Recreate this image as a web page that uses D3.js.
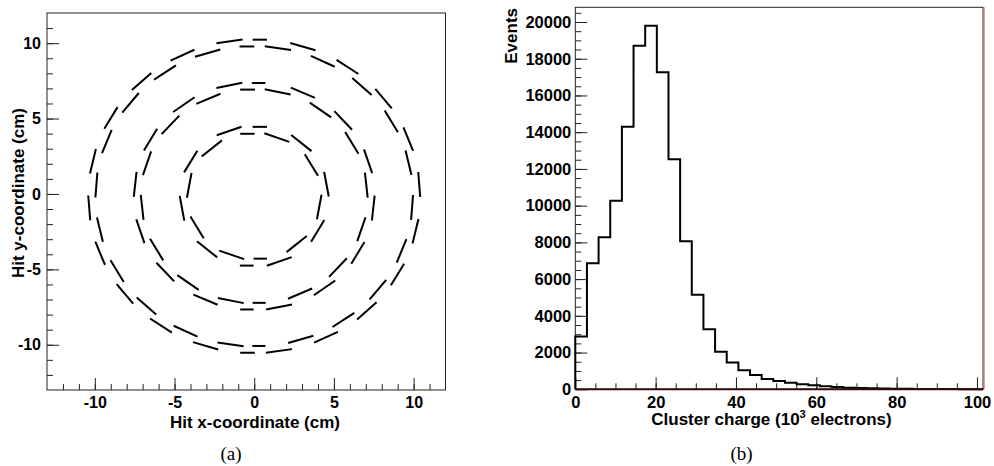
<!DOCTYPE html>
<html><head><meta charset="utf-8">
<script src="https://cdn.jsdelivr.net/npm/d3@7"></script>
<style>
body{margin:0;background:#fff}
svg{display:block}
</style>
</head><body>
<svg id="c" width="994" height="466"></svg>
<script>
// ---------------- Data: panel (a) hit map ----------------
const detectorCenter = [0.0, -0.15];           // cm
const ladderLength = 1.66;                      // cm (full ladder)
// full ladders: [phi (deg), radius (cm)]
const layer1Ladders = [
  [70,4.14],[50,4.60],[30,4.14],[10,4.60],[-10,4.14],[-30,4.60],[-50,4.14],[-70,4.60],
  [250,4.14],[230,4.60],[210,4.14],[190,4.60],[170,4.14],[150,4.60],[130,4.14],[110,4.60]
];
const layer2Ladders = [
  [78,7.07],[66,7.51],[54,7.07],[42,7.51],[30,7.07],[18,7.51],[6,7.07],[-6,7.51],
  [-18,7.07],[-30,7.51],[-42,7.07],[-54,7.51],[-66,7.07],[-78,7.51],
  [258,7.07],[246,7.51],[234,7.07],[222,7.51],[210,7.07],[198,7.51],[186,7.07],[174,7.51],
  [162,7.07],[150,7.51],[138,7.07],[126,7.51],[114,7.07],[102,7.51]
];
const layer3Ladders = [
  [81.4,9.93],[72.9,10.38],[64.3,9.93],[55.7,10.38],[47.1,9.93],[38.6,10.38],[30,9.93],[21.4,10.38],
  [12.9,9.93],[4.3,10.38],[-4.3,9.93],[-12.9,10.38],[-21.4,9.93],[-30,10.38],[-38.6,9.93],[-47.1,10.38],
  [-55.7,9.93],[-64.3,10.38],[-72.9,9.93],[-81.4,10.38],
  [261.4,9.93],[252.9,10.38],[244.3,9.93],[235.7,10.38],[227.1,9.93],[218.6,10.38],[210,9.93],[201.4,10.38],
  [192.9,9.93],[184.3,10.38],[175.7,9.93],[167.1,10.38],[158.6,9.93],[150,10.38],[141.4,9.93],[132.9,10.38],
  [124.3,9.93],[115.7,10.38],[107.1,9.93],[98.6,10.38]
];
// half ladders at top/bottom: [side (+1 top, -1 bottom), radius, x0, x1]
const halfLadders = [
  [1,4.60,-0.10,0.80],[1,4.14,-0.88,0.02],[-1,4.14,-0.04,0.80],[-1,4.60,-0.90,-0.04],
  [1,7.51,-0.15,0.70],[1,7.07,-0.88,0.05],[-1,7.07,-0.10,0.72],[-1,7.51,-0.88,-0.04],
  [1,10.38,-0.10,0.80],[1,9.93,-0.92,0.00],[-1,9.93,-0.12,0.70],[-1,10.38,-0.88,0.04]
];
const xMajorA = [-10,-5,0,5,10];
const yMajorA = [-10,-5,0,5,10];

// ---------------- Data: panel (b) histogram ----------------
const binLow = 0, binWidth = 2.9;
const counts = [2870,6860,8280,10260,14300,18710,19800,17260,12520,8060,
                5150,3270,2040,1460,1040,780,555,455,355,275,
                218,160,122,90,70,54,40,32,25,20,15,12,10,8,6];
const xMajorB = [0,20,40,60,80,100];
const yMajorB = [0,2000,4000,6000,8000,10000,12000,14000,16000,18000,20000];

// ---------------- Drawing ----------------
const svg = d3.select("#c");
const FONT = "'Liberation Sans', Arial, Helvetica, sans-serif";

function styleAxis(g, size){
  g.select(".domain").remove();
  g.selectAll("line").attr("stroke","#222").attr("stroke-width",1);
  g.selectAll("text").attr("font-family",FONT).attr("font-weight","bold")
    .attr("font-size",size).attr("fill","#000");
}

// ----- Panel (a)
const xA = d3.scaleLinear().domain([-13,12]).range([47,445.5]);
const yA = d3.scaleLinear().domain([-13,12]).range([390,13]);
const gA = svg.append("g");

gA.append("g").attr("transform","translate(0,390)")
  .call(d3.axisBottom(xA).tickValues(d3.range(-12,12)).tickSize(-6).tickFormat(""))
  .call(g=>styleAxis(g,16));
gA.append("g").attr("transform","translate(0,390)")
  .call(d3.axisBottom(xA).tickValues(xMajorA).tickSize(-12).tickPadding(7).tickFormat(d=>String(d)))
  .call(g=>styleAxis(g,16));
gA.append("g").attr("transform","translate(47,0)")
  .call(d3.axisLeft(yA).tickValues(d3.range(-12,12)).tickSize(-6).tickFormat(""))
  .call(g=>styleAxis(g,16));
gA.append("g").attr("transform","translate(47,0)")
  .call(d3.axisLeft(yA).tickValues(yMajorA).tickSize(-12).tickPadding(6).tickFormat(d=>String(d)))
  .call(g=>styleAxis(g,16));

gA.append("rect").attr("x",xA(-13)).attr("y",yA(12))
  .attr("width",xA(12)-xA(-13)).attr("height",yA(-13)-yA(12))
  .attr("fill","none").attr("stroke","#222").attr("stroke-width",1);

const [cx, cy] = detectorCenter;
function fullSeg(d){
  const a = d[0]*Math.PI/180, r = d[1], h = ladderLength/2;
  const mx = cx + r*Math.cos(a), my = cy + r*Math.sin(a);
  const tx = -Math.sin(a), ty = Math.cos(a);
  return [mx-h*tx, my-h*ty, mx+h*tx, my+h*ty];
}
const segs = [...layer1Ladders, ...layer2Ladders, ...layer3Ladders].map(fullSeg)
  .concat(halfLadders.map(d=>[d[2], cy+d[0]*d[1], d[3], cy+d[0]*d[1]]));
gA.append("g").selectAll("line").data(segs).join("line")
  .attr("x1",d=>xA(d[0])).attr("y1",d=>yA(d[1]))
  .attr("x2",d=>xA(d[2])).attr("y2",d=>yA(d[3]))
  .attr("stroke","#000").attr("stroke-width",2);

gA.append("text").attr("x",255).attr("y",422.5).attr("dy","0.35em")
  .attr("text-anchor","middle").attr("font-family",FONT).attr("font-weight","bold")
  .attr("font-size",17).text("Hit x-coordinate (cm)");
gA.append("text").attr("transform","translate(18.5,193) rotate(-90)").attr("dy","0.35em")
  .attr("text-anchor","middle").attr("font-family",FONT).attr("font-weight","bold")
  .attr("font-size",17).text("Hit y-coordinate (cm)");
gA.append("text").attr("x",231).attr("y",453).attr("dy","0.35em")
  .attr("text-anchor","middle").attr("font-family","'Liberation Serif','Times New Roman',serif")
  .attr("font-size",19).text("(a)");

// ----- Panel (b)
const xHi = binLow + binWidth*counts.length;
const xB = d3.scaleLinear().domain([0,xHi]).range([575.3,983]);
const yB = d3.scaleLinear().domain([0,20800]).range([389.3,7.3]);
const gB = svg.append("g");

gB.append("g").attr("transform","translate(0,389.3)")
  .call(d3.axisBottom(xB).tickValues(d3.range(5,101,5)).tickSize(-6).tickFormat(""))
  .call(g=>styleAxis(g,16.5));
gB.append("g").attr("transform","translate(0,389.3)")
  .call(d3.axisBottom(xB).tickValues(xMajorB).tickSize(-12).tickPadding(7).tickFormat(d=>String(d)))
  .call(g=>styleAxis(g,16.5));
gB.append("g").attr("transform","translate(575.3,0)")
  .call(d3.axisLeft(yB).tickValues(d3.range(500,20800,500)).tickSize(-6).tickFormat(""))
  .call(g=>styleAxis(g,16.5));
gB.append("g").attr("transform","translate(575.3,0)")
  .call(d3.axisLeft(yB).tickValues(yMajorB).tickSize(-12).tickPadding(4).tickFormat(d=>String(d)))
  .call(g=>styleAxis(g,16.5));

gB.append("rect").attr("x",xB(0)).attr("y",yB(20800))
  .attr("width",xB(xHi)-xB(0)).attr("height",yB(0)-yB(20800))
  .attr("fill","none").attr("stroke","#222").attr("stroke-width",1);

const pts = [[binLow,0]];
counts.forEach((c,i)=>pts.push([binLow+i*binWidth, c]));
pts.push([xHi, counts[counts.length-1]]);
pts.push([xHi, 0]);
gB.append("path").datum(pts)
  .attr("d", d3.line().x(d=>xB(d[0])).y(d=>yB(d[1])).curve(d3.curveStepAfter))
  .attr("fill","none").attr("stroke","#000").attr("stroke-width",2);

// baseline and right edge tint
gB.append("line").attr("x1",xB(0)).attr("x2",xB(xHi)).attr("y1",yB(0)).attr("y2",yB(0))
  .attr("stroke","#3a0808").attr("stroke-width",2);
gB.append("line").attr("x1",xB(xHi)+1.2).attr("x2",xB(xHi)+1.2).attr("y1",yB(20800)).attr("y2",yB(0))
  .attr("stroke","#e07070").attr("stroke-width",1);

const xl = gB.append("text").attr("x",771.5).attr("y",419).attr("dy","0.35em")
  .attr("text-anchor","middle").attr("font-family",FONT).attr("font-weight","bold")
  .attr("font-size",17);
xl.append("tspan").text("Cluster charge (10");
xl.append("tspan").attr("font-size",11).attr("dy",-7).text("3");
xl.append("tspan").attr("dy",7).text(" electrons)");

gB.append("text").attr("transform","translate(511.5,8) rotate(-90)").attr("dy","0.35em")
  .attr("text-anchor","end").attr("font-family",FONT).attr("font-weight","bold")
  .attr("font-size",17).text("Events");
gB.append("text").attr("x",741.5).attr("y",453).attr("dy","0.35em")
  .attr("text-anchor","middle").attr("font-family","'Liberation Serif','Times New Roman',serif")
  .attr("font-size",19).text("(b)");
</script>
</body></html>
